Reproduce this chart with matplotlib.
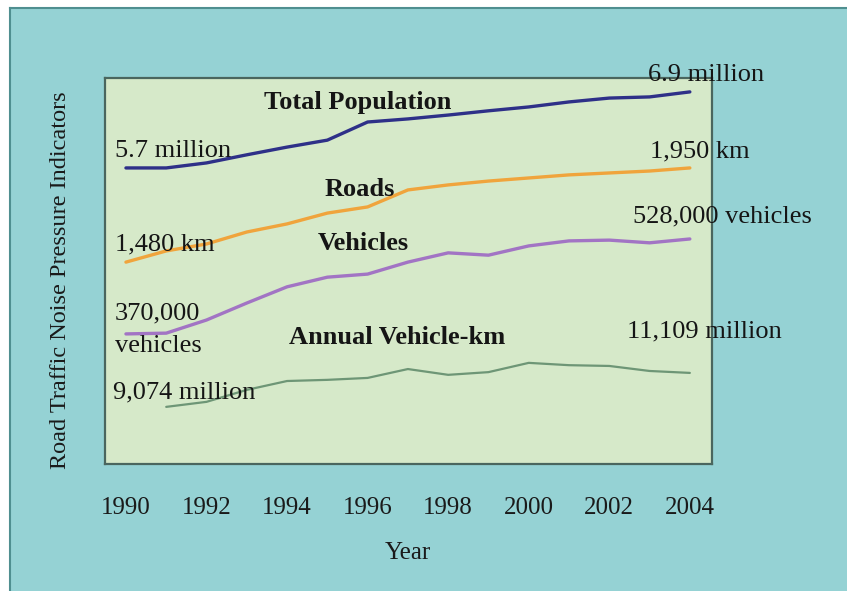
import matplotlib
matplotlib.use("Agg")
import matplotlib.pyplot as plt
from matplotlib.patches import Rectangle
from matplotlib.lines import Line2D

# ---- data (index values, axis spans 0-100) ----
years = [1990, 1991, 1992, 1993, 1994, 1995, 1996, 1997, 1998, 1999, 2000, 2001, 2002, 2003, 2004]
population = [76.7, 76.7, 78.0, 80.1, 82.1, 83.9, 88.6, 89.4, 90.4, 91.5, 92.5, 93.8, 94.8, 95.1, 96.4]
roads = [52.3, 55.2, 57.0, 60.1, 62.2, 65.0, 66.6, 71.0, 72.3, 73.3, 74.1, 74.9, 75.4, 75.9, 76.7]
vehicles = [33.7, 33.9, 37.3, 41.7, 45.9, 48.4, 49.2, 52.3, 54.7, 54.1, 56.5, 57.8, 58.0, 57.3, 58.3]
vkm_years = [1991, 1992, 1993, 1994, 1995, 1996, 1997, 1998, 1999, 2000, 2001, 2002, 2003, 2004]
vkm = [14.8, 16.1, 19.2, 21.5, 21.8, 22.3, 24.6, 23.1, 23.8, 26.2, 25.6, 25.4, 24.1, 23.6]
tick_years = [1990, 1992, 1994, 1996, 1998, 2000, 2002, 2004]

series_labels = ["Total Population", "Roads", "Vehicles", "Annual Vehicle-km"]
start_labels = ["5.7 million", "1,480 km", "370,000\nvehicles", "9,074 million"]
end_labels = ["6.9 million", "1,950 km", "528,000 vehicles", "11,109 million"]

W, H = 847, 591
fig = plt.figure(figsize=(W / 100, H / 100), dpi=100, facecolor="white")
plt.rcParams["font.family"] = ["Liberation Serif", "DejaVu Serif"]

# teal backdrop with dark border on left/top
fig.patches.append(Rectangle((10 / W, 0), 1, 1 - 8 / H, transform=fig.transFigure,
                             facecolor="#95d2d4", edgecolor="none", zorder=-10))
fig.lines.append(Line2D([10 / W, 10 / W], [0, 1 - 8 / H], transform=fig.transFigure,
                        color="#4f8f90", lw=1.5, zorder=-9))
fig.lines.append(Line2D([10 / W, 1], [1 - 8 / H, 1 - 8 / H], transform=fig.transFigure,
                        color="#4f8f90", lw=1.5, zorder=-9))

L, R, T, B = 105, 712, 78, 464
ax = fig.add_axes([L / W, 1 - B / H, (R - L) / W, (B - T) / H])
ax.set_zorder(2)
ax.set_facecolor("#d6e9c9")
for s in ax.spines.values():
    s.set_color("#4a665e")
    s.set_linewidth(1.6)

ax.plot(years, population, color="#2e3088", lw=2.4, solid_capstyle="round")
ax.plot(years, roads, color="#f0a43c", lw=2.4, solid_capstyle="round")
ax.plot(years, vehicles, color="#a274c4", lw=2.4, solid_capstyle="round")
ax.plot(vkm_years, vkm, color="#6e9676", lw=1.6, solid_capstyle="round")

ax.set_xlim(1989.48, 2004.55)
ax.set_ylim(0, 100)
ax.set_yticks([])
ax.set_xticks(tick_years)
ax.set_xticklabels([str(y) for y in tick_years], fontsize=18, color="#1a1a1a")
ax.tick_params(axis="x", length=0, pad=24)

fs = 19

def px(x, y):
    return ((x - L) / (R - L), (B - y) / (B - T))

def put(text, x, y, bold=False, ha="left"):
    ax.text(*px(x, y), text, transform=ax.transAxes, fontsize=fs, ha=ha,
            va="baseline", fontweight="bold" if bold else "normal",
            color="#151515", clip_on=False)

# series name labels
put(series_labels[0], 358, 109, bold=True, ha="center")
put(series_labels[1], 360, 196, bold=True, ha="center")
put(series_labels[2], 363, 250, bold=True, ha="center")
put(series_labels[3], 397, 344, bold=True, ha="center")

# start value labels
put(start_labels[0], 115, 157)
put(start_labels[1], 115, 250)
first, second = start_labels[2].split("\n")
put(first, 115, 319)
put(second, 115, 352)
put(start_labels[3], 113, 398)

# end value labels
put(end_labels[0], 648, 81)
put(end_labels[1], 650, 157)
put(end_labels[2], 633, 222)
put(end_labels[3], 627, 337)

fig.text(408 / W, 1 - 553 / H, "Year", fontsize=18, ha="center", va="center", color="#1a1a1a")
fig.text(61 / W, 1 - 280 / H, "Road Traffic Noise Pressure Indicators", fontsize=17.5,
         rotation=90, ha="center", va="center", color="#1a1a1a")

fig.savefig("out.png", dpi=100, facecolor=fig.get_facecolor())
